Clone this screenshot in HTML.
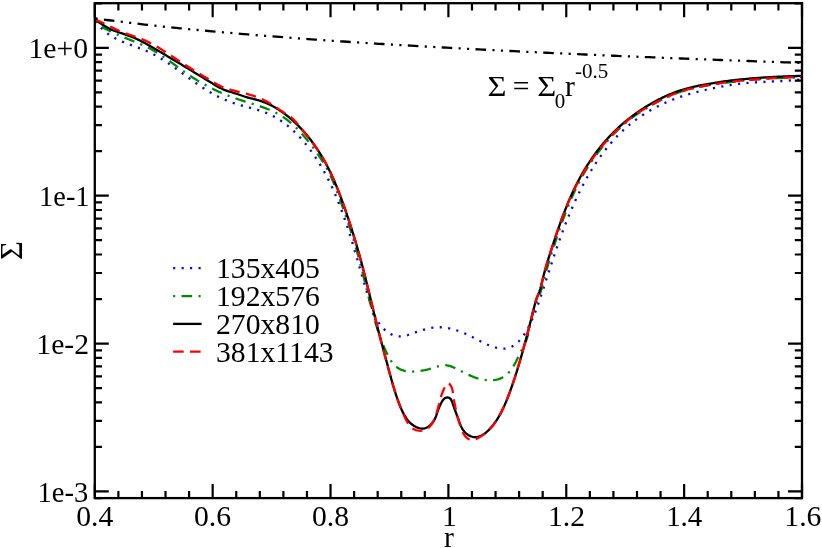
<!DOCTYPE html>
<html lang="en">
<head>
<meta charset="utf-8">
<title>Surface density vs r</title>
<style>
html,body{margin:0;padding:0;background:#fff;}
body{width:822px;height:548px;overflow:hidden;}
svg{display:block;will-change:transform;}
svg text{font-family:"Liberation Serif",serif;font-size:29.7px;fill:#000;}
.c{fill:none;stroke-width:2.3;stroke-linecap:butt;stroke-linejoin:round;}
</style>
</head>
<body>
<svg width="822" height="548" viewBox="0 0 822 548">
<rect x="0" y="0" width="822" height="548" fill="#ffffff"/>
<defs><clipPath id="clip"><rect x="94.8" y="3.2" width="707.2" height="494.90000000000003"/></clipPath></defs>
<g class="c" clip-path="url(#clip)">
<path d="M94.89 19.32L95.65 20.66L96.46 21.96L97.31 23.22L98.20 24.44L99.13 25.61L100.11 26.76L101.12 27.86L102.16 28.92L103.24 29.95L104.35 30.95L105.49 31.91L106.66 32.83L107.86 33.72L109.08 34.58L110.33 35.41L111.59 36.21L112.88 36.98L114.18 37.72L115.50 38.43L116.84 39.11L118.19 39.77L119.55 40.41L120.92 41.02L122.30 41.62L123.69 42.20L125.09 42.76L126.50 43.31L127.91 43.86L129.33 44.39L130.75 44.92L132.17 45.44L133.59 45.96L135.02 46.48L136.44 47.00L137.86 47.53L139.27 48.06L140.68 48.60L142.09 49.15L143.49 49.71L144.88 50.29L146.26 50.88L147.63 51.49L148.99 52.12L150.34 52.77L151.68 53.44L153.01 54.12L154.34 54.82L155.65 55.53L156.96 56.26L158.25 57.01L159.54 57.76L160.83 58.53L162.10 59.31L163.37 60.11L164.64 60.91L165.89 61.73L167.15 62.55L168.39 63.38L169.64 64.22L170.88 65.07L172.11 65.93L173.34 66.79L174.57 67.66L175.79 68.53L177.02 69.41L178.24 70.29L179.46 71.18L180.67 72.06L181.89 72.95L183.11 73.84L184.32 74.73L185.54 75.62L186.75 76.51L187.97 77.40L189.19 78.29L190.41 79.17L191.63 80.05L192.85 80.93L194.08 81.80L195.31 82.66L196.54 83.53L197.77 84.38L199.01 85.22L200.26 86.06L201.51 86.89L202.76 87.71L204.02 88.52L205.29 89.32L206.56 90.11L207.84 90.89L209.12 91.66L210.41 92.41L211.71 93.16L213.01 93.89L214.32 94.60L215.64 95.31L216.96 96.00L218.30 96.67L219.64 97.33L220.98 97.98L222.34 98.61L223.70 99.22L225.08 99.82L226.46 100.40L227.85 100.97L229.25 101.51L230.65 102.04L232.07 102.55L233.50 103.04L234.93 103.52L236.38 103.97L237.83 104.41L239.29 104.84L240.75 105.26L242.22 105.66L243.70 106.06L245.17 106.46L246.65 106.85L248.12 107.24L249.60 107.63L251.07 108.02L252.54 108.42L254.01 108.83L255.47 109.24L256.93 109.67L258.38 110.11L259.82 110.57L261.25 111.04L262.68 111.53L264.09 112.04L265.49 112.58L266.87 113.14L268.24 113.73L269.60 114.35L270.95 114.98L272.28 115.65L273.59 116.34L274.90 117.05L276.19 117.79L277.46 118.55L278.73 119.33L279.98 120.13L281.21 120.96L282.44 121.80L283.65 122.67L284.84 123.55L286.03 124.46L287.20 125.38L288.36 126.32L289.51 127.28L290.64 128.26L291.76 129.25L292.87 130.26L293.97 131.29L295.05 132.33L296.12 133.38L297.18 134.45L298.23 135.54L299.27 136.63L300.29 137.74L301.30 138.86L302.30 139.99L303.29 141.14L304.27 142.29L305.24 143.45L306.19 144.63L307.13 145.81L308.06 147.00L308.98 148.20L309.89 149.41L310.79 150.62L311.67 151.84L312.55 153.06L313.41 154.30L314.27 155.54L315.11 156.78L315.94 158.03L316.77 159.29L317.58 160.55L318.38 161.82L319.17 163.09L319.96 164.37L320.73 165.65L321.49 166.94L322.25 168.24L322.99 169.54L323.73 170.84L324.45 172.15L325.17 173.47L325.88 174.79L326.58 176.11L327.27 177.44L327.96 178.78L328.63 180.11L329.30 181.46L329.96 182.80L330.61 184.15L331.25 185.51L331.89 186.87L332.52 188.23L333.14 189.60L333.75 190.97L334.36 192.34L334.96 193.72L335.55 195.10L336.14 196.48L336.72 197.87L337.29 199.26L337.86 200.65L338.42 202.05L338.98 203.45L339.53 204.85L340.07 206.25L340.61 207.66L341.14 209.07L341.66 210.48L342.18 211.90L342.70 213.31L343.21 214.73L343.72 216.15L344.22 217.57L344.72 219.00L345.21 220.42L345.70 221.85L346.18 223.28L346.66 224.71L347.13 226.14L347.60 227.58L348.07 229.01L348.54 230.45L349.00 231.88L349.45 233.32L349.91 234.76L350.36 236.20L350.81 237.64L351.25 239.08L351.69 240.52L352.13 241.96L352.57 243.40L353.01 244.84L353.44 246.28L353.87 247.73L354.30 249.17L354.72 250.61L355.15 252.05L355.57 253.49L355.99 254.93L356.42 256.37L356.83 257.81L357.25 259.25L357.67 260.69L358.09 262.12L358.50 263.56L358.92 264.99L359.33 266.43L359.75 267.86L360.16 269.29L360.58 270.72L360.99 272.15L361.41 273.58L361.82 275.00L362.24 276.43L362.66 277.86L363.08 279.29L363.50 280.72L363.92 282.15L364.34 283.58L364.76 285.01L365.19 286.44L365.62 287.88L366.05 289.31L366.48 290.75L366.91 292.19L367.35 293.64L367.79 295.09L368.24 296.54L368.68 297.99L369.13 299.45L369.59 300.91L370.04 302.37L370.51 303.84L370.98 305.30L371.47 306.76L371.97 308.21L372.49 309.66L373.02 311.09L373.58 312.51L374.16 313.92L374.76 315.31L375.39 316.68L376.05 318.03L376.74 319.36L377.47 320.66L378.23 321.93L379.04 323.18L379.88 324.39L380.77 325.57L381.70 326.71L382.68 327.81L383.71 328.87L384.79 329.89L385.93 330.87L387.11 331.79L388.34 332.64L389.61 333.43L390.91 334.15L392.25 334.78L393.61 335.32L395.00 335.77L396.41 336.11L397.83 336.34L399.27 336.45L400.71 336.44L402.17 336.32L403.62 336.11L405.08 335.81L406.55 335.44L408.02 335.01L409.49 334.53L410.97 334.01L412.44 333.48L413.92 332.93L415.39 332.39L416.87 331.86L418.34 331.35L419.80 330.85L421.27 330.38L422.74 329.94L424.20 329.52L425.67 329.13L427.13 328.77L428.60 328.44L430.06 328.14L431.52 327.89L432.99 327.67L434.46 327.49L435.92 327.36L437.39 327.27L438.87 327.23L440.34 327.23L441.81 327.29L443.29 327.40L444.77 327.56L446.25 327.76L447.72 328.00L449.20 328.29L450.67 328.61L452.13 328.98L453.60 329.37L455.06 329.80L456.51 330.26L457.95 330.76L459.39 331.27L460.81 331.81L462.23 332.38L463.64 332.96L465.03 333.56L466.41 334.18L467.78 334.82L469.14 335.46L470.48 336.12L471.80 336.78L473.11 337.45L474.40 338.12L475.69 338.79L476.96 339.47L478.24 340.15L479.53 340.82L480.82 341.49L482.14 342.15L483.47 342.80L484.84 343.45L486.23 344.09L487.66 344.71L489.14 345.32L490.64 345.90L492.17 346.46L493.72 346.97L495.28 347.43L496.85 347.83L498.41 348.16L499.95 348.42L501.48 348.59L502.98 348.67L504.45 348.64L505.88 348.51L507.26 348.27L508.61 347.92L509.92 347.48L511.19 346.95L512.42 346.33L513.62 345.63L514.78 344.85L515.91 344.00L517.00 343.08L518.07 342.09L519.09 341.05L520.09 339.96L521.06 338.81L522.00 337.62L522.91 336.39L523.79 335.13L524.64 333.83L525.47 332.51L526.28 331.17L527.06 329.82L527.81 328.45L528.55 327.08L529.26 325.70L529.95 324.32L530.62 322.94L531.27 321.56L531.90 320.17L532.52 318.78L533.12 317.39L533.70 316.00L534.27 314.60L534.83 313.21L535.38 311.81L535.91 310.41L536.43 309.01L536.95 307.60L537.45 306.20L537.95 304.79L538.44 303.38L538.92 301.97L539.40 300.56L539.88 299.14L540.35 297.73L540.82 296.31L541.29 294.90L541.76 293.48L542.23 292.06L542.69 290.64L543.16 289.22L543.62 287.80L544.09 286.38L544.55 284.95L545.02 283.53L545.48 282.10L545.94 280.68L546.41 279.25L546.87 277.83L547.33 276.40L547.80 274.97L548.26 273.55L548.73 272.12L549.19 270.69L549.66 269.26L550.13 267.84L550.59 266.41L551.06 264.98L551.53 263.55L552.00 262.12L552.48 260.70L552.95 259.27L553.43 257.84L553.90 256.42L554.38 254.99L554.86 253.57L555.35 252.14L555.83 250.72L556.32 249.29L556.81 247.87L557.30 246.45L557.79 245.03L558.29 243.60L558.79 242.18L559.29 240.77L559.79 239.35L560.30 237.93L560.81 236.52L561.32 235.10L561.84 233.69L562.36 232.28L562.88 230.87L563.41 229.46L563.94 228.05L564.48 226.65L565.02 225.24L565.56 223.84L566.10 222.44L566.65 221.04L567.21 219.64L567.77 218.25L568.33 216.86L568.90 215.46L569.47 214.07L570.05 212.69L570.63 211.30L571.22 209.92L571.81 208.54L572.41 207.16L573.01 205.79L573.62 204.41L574.24 203.04L574.86 201.67L575.48 200.31L576.11 198.95L576.75 197.59L577.39 196.23L578.04 194.87L578.69 193.52L579.36 192.17L580.02 190.83L580.70 189.49L581.38 188.15L582.07 186.81L582.76 185.48L583.46 184.15L584.17 182.82L584.88 181.50L585.61 180.18L586.34 178.86L587.07 177.55L587.82 176.24L588.57 174.94L589.33 173.63L590.10 172.34L590.87 171.05L591.66 169.76L592.45 168.47L593.25 167.20L594.05 165.92L594.87 164.66L595.69 163.39L596.52 162.14L597.36 160.89L598.21 159.64L599.07 158.40L599.94 157.17L600.81 155.95L601.69 154.73L602.59 153.52L603.49 152.31L604.40 151.12L605.31 149.93L606.24 148.75L607.18 147.57L608.12 146.41L609.08 145.25L610.04 144.10L611.02 142.96L612.00 141.83L613.00 140.71L614.00 139.59L615.01 138.49L616.03 137.40L617.07 136.31L618.11 135.24L619.16 134.18L620.22 133.12L621.29 132.08L622.38 131.05L623.47 130.03L624.57 129.02L625.69 128.02L626.81 127.03L627.94 126.06L629.09 125.09L630.24 124.14L631.41 123.20L632.59 122.27L633.77 121.36L634.97 120.46L636.18 119.56L637.39 118.69L638.62 117.82L639.85 116.96L641.10 116.12L642.35 115.29L643.61 114.47L644.88 113.66L646.16 112.87L647.44 112.09L648.74 111.32L650.04 110.56L651.35 109.81L652.66 109.08L653.99 108.35L655.32 107.64L656.65 106.94L657.99 106.26L659.34 105.58L660.70 104.92L662.06 104.27L663.43 103.63L664.80 103.00L666.18 102.39L667.56 101.79L668.95 101.20L670.34 100.62L671.74 100.05L673.14 99.50L674.55 98.95L675.96 98.42L677.37 97.91L678.79 97.40L680.21 96.90L681.63 96.42L683.06 95.95L684.49 95.49L685.92 95.04L687.36 94.61L688.79 94.18L690.23 93.76L691.68 93.36L693.12 92.96L694.57 92.57L696.02 92.19L697.48 91.82L698.93 91.46L700.39 91.10L701.85 90.76L703.31 90.41L704.77 90.08L706.23 89.75L707.70 89.43L709.17 89.12L710.64 88.80L712.11 88.50L713.58 88.20L715.05 87.90L716.53 87.61L718.00 87.32L719.48 87.04L720.96 86.76L722.44 86.49L723.92 86.22L725.40 85.96L726.88 85.71L728.36 85.46L729.85 85.22L731.33 84.98L732.82 84.75L734.31 84.53L735.79 84.32L737.28 84.11L738.77 83.92L740.27 83.73L741.76 83.55L743.25 83.37L744.74 83.21L746.24 83.06L747.74 82.91L749.23 82.78L750.73 82.65L752.23 82.53L753.73 82.42L755.23 82.32L756.73 82.23L758.23 82.13L759.73 82.05L761.23 81.97L762.73 81.89L764.23 81.82L765.73 81.75L767.24 81.68L768.74 81.62L770.24 81.55L771.74 81.49L773.25 81.42L774.75 81.36L776.25 81.29L777.75 81.22L779.25 81.15L780.75 81.07L782.26 80.99L783.76 80.91L785.26 80.82L786.75 80.73L788.25 80.63L789.75 80.52L791.25 80.41L792.74 80.28L794.24 80.15L795.73 80.01L797.23 79.86L798.72 79.70L800.21 79.53L801.70 79.34" stroke="#0000ff" stroke-dasharray="2.119 6.356" stroke-dashoffset="-1.9"/>
<path d="M94.69 19.51L95.51 20.86L96.42 22.10L97.41 23.23L98.47 24.28L99.60 25.24L100.80 26.13L102.04 26.96L103.32 27.73L104.64 28.46L105.98 29.15L107.34 29.81L108.71 30.45L110.08 31.09L111.45 31.72L112.82 32.35L114.18 32.98L115.54 33.60L116.90 34.22L118.25 34.84L119.62 35.45L120.98 36.05L122.35 36.65L123.72 37.24L125.10 37.82L126.49 38.39L127.88 38.96L129.27 39.53L130.67 40.09L132.07 40.65L133.48 41.21L134.88 41.77L136.28 42.34L137.67 42.92L139.07 43.50L140.46 44.09L141.84 44.69L143.22 45.30L144.58 45.92L145.94 46.56L147.29 47.22L148.63 47.90L149.96 48.59L151.28 49.31L152.58 50.03L153.88 50.78L155.17 51.54L156.45 52.31L157.72 53.10L158.98 53.90L160.24 54.71L161.49 55.53L162.74 56.36L163.98 57.21L165.21 58.06L166.44 58.91L167.67 59.78L168.89 60.65L170.11 61.52L171.33 62.40L172.55 63.28L173.76 64.17L174.98 65.05L176.19 65.94L177.41 66.83L178.62 67.71L179.84 68.60L181.06 69.48L182.28 70.36L183.50 71.23L184.73 72.10L185.96 72.97L187.19 73.82L188.43 74.67L189.68 75.51L190.93 76.35L192.19 77.17L193.45 77.98L194.72 78.79L195.99 79.58L197.27 80.37L198.56 81.14L199.85 81.91L201.15 82.66L202.45 83.41L203.76 84.15L205.08 84.87L206.39 85.59L207.72 86.30L209.05 86.99L210.38 87.68L211.72 88.36L213.07 89.02L214.42 89.68L215.77 90.33L217.13 90.96L218.50 91.59L219.86 92.21L221.24 92.81L222.62 93.41L224.00 93.99L225.39 94.57L226.78 95.13L228.17 95.69L229.57 96.23L230.98 96.76L232.39 97.28L233.80 97.79L235.22 98.29L236.64 98.78L238.06 99.26L239.49 99.74L240.92 100.20L242.36 100.66L243.79 101.11L245.23 101.56L246.66 102.01L248.10 102.45L249.54 102.90L250.97 103.34L252.41 103.79L253.84 104.25L255.28 104.70L256.71 105.17L258.13 105.64L259.56 106.12L260.98 106.61L262.40 107.11L263.81 107.62L265.21 108.14L266.61 108.68L268.00 109.23L269.38 109.81L270.76 110.39L272.12 111.00L273.48 111.63L274.82 112.28L276.15 112.95L277.47 113.64L278.78 114.36L280.07 115.10L281.34 115.87L282.61 116.67L283.85 117.50L285.08 118.36L286.30 119.24L287.49 120.15L288.68 121.08L289.84 122.04L291.00 123.01L292.13 124.01L293.26 125.03L294.37 126.06L295.46 127.11L296.54 128.17L297.61 129.25L298.67 130.34L299.71 131.44L300.74 132.54L301.75 133.66L302.76 134.78L303.75 135.90L304.73 137.04L305.70 138.17L306.66 139.32L307.61 140.47L308.55 141.63L309.48 142.79L310.40 143.96L311.31 145.14L312.21 146.32L313.10 147.52L313.98 148.71L314.86 149.92L315.72 151.14L316.58 152.36L317.44 153.59L318.28 154.83L319.12 156.07L319.95 157.33L320.77 158.59L321.58 159.86L322.39 161.14L323.18 162.42L323.96 163.71L324.74 165.01L325.50 166.32L326.24 167.63L326.98 168.95L327.70 170.28L328.40 171.62L329.10 172.96L329.77 174.30L330.43 175.66L331.08 177.02L331.71 178.38L332.32 179.75L332.91 181.13L333.50 182.51L334.07 183.90L334.63 185.29L335.18 186.69L335.72 188.08L336.25 189.48L336.78 190.89L337.31 192.29L337.83 193.70L338.35 195.10L338.87 196.51L339.38 197.92L339.90 199.33L340.41 200.74L340.93 202.15L341.44 203.56L341.94 204.97L342.45 206.39L342.96 207.80L343.46 209.22L343.96 210.63L344.46 212.05L344.95 213.47L345.44 214.89L345.93 216.31L346.42 217.73L346.91 219.15L347.39 220.57L347.87 222.00L348.35 223.42L348.82 224.85L349.29 226.28L349.76 227.70L350.22 229.13L350.69 230.56L351.14 232.00L351.60 233.43L352.05 234.86L352.50 236.30L352.94 237.73L353.39 239.17L353.82 240.61L354.26 242.05L354.69 243.49L355.11 244.93L355.53 246.37L355.95 247.81L356.37 249.26L356.78 250.70L357.18 252.15L357.58 253.60L357.98 255.05L358.38 256.50L358.77 257.95L359.16 259.40L359.54 260.85L359.92 262.31L360.30 263.76L360.68 265.22L361.06 266.67L361.43 268.13L361.80 269.59L362.17 271.04L362.54 272.50L362.90 273.96L363.27 275.42L363.63 276.88L363.99 278.33L364.35 279.79L364.71 281.25L365.07 282.71L365.44 284.17L365.80 285.63L366.16 287.09L366.52 288.55L366.88 290.01L367.24 291.46L367.60 292.92L367.96 294.38L368.33 295.84L368.69 297.29L369.06 298.75L369.43 300.21L369.80 301.66L370.17 303.12L370.55 304.57L370.92 306.02L371.30 307.48L371.68 308.93L372.07 310.38L372.45 311.83L372.84 313.28L373.24 314.72L373.64 316.17L374.04 317.61L374.44 319.06L374.85 320.50L375.27 321.94L375.69 323.38L376.11 324.82L376.55 326.25L376.99 327.69L377.43 329.12L377.89 330.55L378.35 331.97L378.83 333.39L379.31 334.81L379.80 336.23L380.31 337.64L380.83 339.05L381.35 340.46L381.89 341.86L382.45 343.26L383.01 344.66L383.59 346.05L384.19 347.44L384.79 348.82L385.42 350.20L386.06 351.57L386.72 352.94L387.39 354.30L388.08 355.66L388.79 357.01L389.53 358.34L390.31 359.64L391.12 360.91L391.98 362.14L392.88 363.32L393.85 364.45L394.87 365.51L395.96 366.50L397.13 367.42L398.37 368.25L399.67 368.99L401.04 369.64L402.45 370.21L403.90 370.67L405.37 371.04L406.85 371.32L408.35 371.50L409.85 371.60L411.36 371.63L412.87 371.60L414.38 371.51L415.88 371.37L417.39 371.21L418.88 371.01L420.37 370.80L421.85 370.58L423.31 370.34L424.77 370.09L426.23 369.80L427.69 369.48L429.15 369.12L430.61 368.71L432.09 368.26L433.56 367.77L435.04 367.28L436.52 366.79L438.00 366.34L439.48 365.93L440.96 365.59L442.42 365.33L443.88 365.19L445.33 365.16L446.77 365.28L448.19 365.54L449.60 365.92L451.00 366.39L452.39 366.93L453.76 367.53L455.13 368.16L456.48 368.81L457.82 369.47L459.15 370.14L460.48 370.82L461.80 371.49L463.12 372.17L464.45 372.83L465.78 373.49L467.11 374.14L468.45 374.78L469.80 375.39L471.17 375.99L472.55 376.56L473.94 377.10L475.36 377.61L476.79 378.08L478.25 378.52L479.73 378.92L481.24 379.27L482.76 379.57L484.30 379.82L485.84 380.02L487.39 380.16L488.93 380.24L490.47 380.26L492.00 380.21L493.51 380.09L495.00 379.90L496.47 379.63L497.91 379.28L499.32 378.85L500.69 378.33L502.01 377.73L503.29 377.03L504.52 376.25L505.69 375.38L506.82 374.43L507.91 373.41L508.94 372.34L509.94 371.20L510.88 370.02L511.78 368.79L512.64 367.53L513.46 366.24L514.23 364.93L514.97 363.60L515.67 362.27L516.35 360.92L517.00 359.57L517.65 358.22L518.29 356.87L518.92 355.52L519.57 354.17L520.22 352.83L520.88 351.49L521.56 350.17L522.26 348.85L522.96 347.53L523.65 346.21L524.33 344.88L524.98 343.54L525.58 342.18L526.13 340.80L526.64 339.40L527.10 337.98L527.53 336.54L527.93 335.10L528.30 333.64L528.65 332.18L528.98 330.71L529.30 329.24L529.62 327.76L529.92 326.28L530.23 324.80L530.54 323.32L530.84 321.85L531.16 320.37L531.48 318.90L531.81 317.43L532.16 315.96L532.53 314.51L532.91 313.05L533.32 311.61L533.75 310.17L534.21 308.75L534.70 307.33L535.22 305.92L535.76 304.53L536.32 303.13L536.90 301.75L537.47 300.36L538.04 298.97L538.60 297.58L539.13 296.18L539.65 294.77L540.14 293.36L540.61 291.94L541.07 290.52L541.51 289.09L541.94 287.65L542.35 286.21L542.75 284.77L543.14 283.33L543.53 281.88L543.91 280.43L544.29 278.97L544.66 277.52L545.03 276.07L545.41 274.61L545.78 273.16L546.17 271.71L546.55 270.26L546.95 268.81L547.35 267.36L547.76 265.92L548.18 264.47L548.61 263.03L549.04 261.59L549.47 260.15L549.91 258.71L550.36 257.28L550.81 255.84L551.26 254.41L551.72 252.98L552.18 251.55L552.65 250.12L553.11 248.69L553.58 247.26L554.05 245.83L554.53 244.41L555.00 242.98L555.47 241.56L555.95 240.13L556.42 238.71L556.90 237.29L557.38 235.87L557.86 234.44L558.34 233.02L558.83 231.61L559.32 230.19L559.80 228.77L560.30 227.35L560.79 225.94L561.29 224.52L561.79 223.11L562.30 221.70L562.81 220.29L563.32 218.88L563.84 217.47L564.36 216.07L564.88 214.66L565.41 213.26L565.95 211.85L566.49 210.45L567.04 209.05L567.59 207.66L568.15 206.26L568.71 204.87L569.29 203.47L569.86 202.08L570.45 200.70L571.04 199.31L571.64 197.93L572.24 196.55L572.85 195.18L573.47 193.81L574.10 192.44L574.73 191.07L575.38 189.71L576.03 188.36L576.69 187.00L577.36 185.66L578.03 184.32L578.72 182.98L579.41 181.65L580.12 180.32L580.83 179.00L581.55 177.68L582.29 176.37L583.03 175.07L583.78 173.77L584.54 172.47L585.31 171.19L586.09 169.91L586.88 168.63L587.67 167.36L588.48 166.10L589.29 164.84L590.12 163.59L590.95 162.34L591.79 161.10L592.65 159.87L593.51 158.64L594.37 157.42L595.25 156.20L596.14 154.99L597.03 153.79L597.94 152.59L598.85 151.40L599.77 150.22L600.70 149.04L601.64 147.87L602.58 146.70L603.54 145.55L604.50 144.39L605.47 143.25L606.45 142.11L607.44 140.97L608.44 139.85L609.44 138.73L610.45 137.62L611.48 136.51L612.51 135.41L613.54 134.32L614.59 133.24L615.65 132.17L616.71 131.11L617.79 130.05L618.87 129.01L619.96 127.98L621.06 126.95L622.17 125.94L623.29 124.93L624.42 123.94L625.56 122.96L626.71 121.99L627.87 121.04L629.04 120.09L630.22 119.16L631.40 118.24L632.60 117.33L633.81 116.44L635.03 115.56L636.26 114.70L637.50 113.85L638.75 113.01L640.00 112.18L641.26 111.36L642.53 110.55L643.81 109.76L645.09 108.97L646.38 108.19L647.67 107.42L648.97 106.65L650.27 105.89L651.57 105.14L652.88 104.40L654.20 103.67L655.51 102.95L656.84 102.23L658.16 101.53L659.49 100.83L660.83 100.15L662.17 99.48L663.52 98.82L664.87 98.17L666.23 97.53L667.59 96.91L668.96 96.30L670.33 95.71L671.71 95.13L673.10 94.57L674.49 94.02L675.89 93.48L677.29 92.97L678.70 92.47L680.12 91.98L681.54 91.52L682.97 91.07L684.41 90.64L685.85 90.22L687.29 89.82L688.75 89.43L690.20 89.06L691.66 88.70L693.12 88.35L694.59 88.01L696.06 87.69L697.53 87.37L699.01 87.07L700.49 86.77L701.97 86.48L703.45 86.21L704.93 85.93L706.42 85.67L707.90 85.41L709.39 85.16L710.87 84.91L712.36 84.66L713.84 84.42L715.33 84.19L716.82 83.96L718.30 83.74L719.79 83.52L721.28 83.30L722.77 83.09L724.26 82.89L725.74 82.69L727.23 82.49L728.72 82.30L730.21 82.11L731.70 81.93L733.19 81.75L734.68 81.58L736.17 81.41L737.66 81.24L739.16 81.08L740.65 80.92L742.14 80.77L743.63 80.62L745.12 80.47L746.62 80.33L748.11 80.19L749.60 80.05L751.10 79.92L752.59 79.79L754.09 79.67L755.58 79.55L757.08 79.43L758.57 79.32L760.07 79.21L761.57 79.10L763.06 79.00L764.56 78.90L766.06 78.80L767.56 78.71L769.05 78.62L770.55 78.53L772.05 78.44L773.55 78.36L775.05 78.28L776.55 78.20L778.05 78.13L779.55 78.06L781.05 77.99L782.56 77.92L784.06 77.86L785.56 77.80L787.06 77.74L788.57 77.68L790.07 77.63L791.58 77.58L793.08 77.53L794.59 77.48L796.09 77.44L797.60 77.39L799.10 77.35L800.61 77.31L802.12 77.28" stroke="#008b00" stroke-dasharray="2.119 6.356 10.593 6.356" stroke-dashoffset="-1.6"/>
<path d="M94.70 19.50L95.96 20.30L97.22 21.12L98.47 21.95L99.72 22.78L100.98 23.62L102.24 24.45L103.51 25.27L104.79 26.08L106.08 26.85L107.38 27.60L108.71 28.31L110.05 28.98L111.41 29.61L112.79 30.20L114.18 30.75L115.59 31.28L117.01 31.78L118.43 32.27L119.86 32.74L121.29 33.21L122.73 33.68L124.16 34.15L125.59 34.63L127.01 35.12L128.43 35.63L129.84 36.15L131.24 36.68L132.63 37.24L134.02 37.81L135.39 38.40L136.76 39.01L138.12 39.64L139.47 40.30L140.80 40.97L142.13 41.67L143.45 42.38L144.77 43.11L146.08 43.84L147.39 44.57L148.70 45.31L150.01 46.05L151.32 46.80L152.62 47.54L153.93 48.29L155.23 49.04L156.53 49.79L157.83 50.55L159.13 51.30L160.43 52.06L161.73 52.82L163.02 53.58L164.32 54.34L165.61 55.11L166.91 55.87L168.20 56.64L169.49 57.41L170.78 58.18L172.07 58.95L173.36 59.72L174.65 60.49L175.94 61.26L177.23 62.04L178.51 62.81L179.80 63.59L181.08 64.36L182.37 65.14L183.65 65.92L184.94 66.70L186.22 67.48L187.50 68.25L188.79 69.03L190.07 69.81L191.35 70.59L192.63 71.37L193.92 72.15L195.20 72.93L196.48 73.71L197.76 74.49L199.04 75.27L200.32 76.05L201.60 76.83L202.89 77.62L204.17 78.40L205.45 79.18L206.73 79.96L208.01 80.74L209.30 81.52L210.58 82.30L211.86 83.09L213.15 83.87L214.43 84.65L215.72 85.42L217.02 86.18L218.32 86.92L219.64 87.63L220.97 88.32L222.32 88.97L223.68 89.58L225.07 90.15L226.48 90.66L227.92 91.13L229.37 91.56L230.82 91.97L232.28 92.39L233.72 92.82L235.15 93.29L236.57 93.77L237.98 94.27L239.39 94.78L240.79 95.28L242.20 95.78L243.61 96.26L245.04 96.72L246.48 97.15L247.93 97.55L249.39 97.93L250.86 98.29L252.33 98.65L253.80 99.01L255.27 99.38L256.74 99.77L258.19 100.18L259.63 100.61L261.06 101.08L262.48 101.58L263.89 102.11L265.28 102.66L266.66 103.24L268.03 103.85L269.38 104.49L270.73 105.15L272.06 105.83L273.38 106.54L274.69 107.28L275.98 108.03L277.26 108.81L278.53 109.61L279.79 110.42L281.04 111.26L282.27 112.12L283.50 113.00L284.71 113.89L285.91 114.80L287.09 115.73L288.27 116.67L289.43 117.63L290.58 118.60L291.72 119.58L292.84 120.58L293.96 121.59L295.06 122.61L296.15 123.65L297.23 124.69L298.30 125.75L299.35 126.82L300.40 127.90L301.43 129.00L302.45 130.10L303.46 131.22L304.46 132.34L305.45 133.48L306.42 134.62L307.38 135.78L308.34 136.94L309.28 138.12L310.21 139.30L311.12 140.50L312.03 141.70L312.93 142.91L313.81 144.13L314.68 145.36L315.54 146.59L316.40 147.84L317.24 149.09L318.06 150.35L318.88 151.61L319.69 152.88L320.48 154.16L321.27 155.45L322.04 156.74L322.81 158.04L323.56 159.34L324.30 160.65L325.03 161.96L325.75 163.28L326.46 164.61L327.16 165.94L327.85 167.27L328.53 168.61L329.19 169.96L329.85 171.30L330.51 172.66L331.15 174.01L331.78 175.37L332.40 176.74L333.02 178.11L333.63 179.48L334.23 180.85L334.82 182.23L335.41 183.61L335.98 185.00L336.56 186.39L337.12 187.78L337.68 189.17L338.23 190.57L338.78 191.97L339.32 193.37L339.85 194.78L340.38 196.18L340.91 197.59L341.43 199.00L341.94 200.41L342.46 201.83L342.96 203.24L343.47 204.66L343.97 206.08L344.46 207.50L344.96 208.92L345.45 210.34L345.94 211.77L346.42 213.19L346.91 214.62L347.39 216.04L347.87 217.47L348.34 218.90L348.81 220.33L349.28 221.75L349.75 223.18L350.22 224.62L350.68 226.05L351.14 227.48L351.60 228.91L352.05 230.35L352.51 231.78L352.96 233.22L353.40 234.65L353.85 236.09L354.29 237.53L354.73 238.97L355.16 240.41L355.59 241.85L356.02 243.29L356.45 244.73L356.88 246.17L357.30 247.61L357.72 249.06L358.13 250.50L358.55 251.95L358.96 253.39L359.36 254.84L359.77 256.29L360.17 257.74L360.57 259.18L360.96 260.63L361.36 262.08L361.75 263.53L362.13 264.99L362.52 266.44L362.90 267.89L363.27 269.34L363.65 270.80L364.02 272.25L364.39 273.71L364.76 275.16L365.13 276.62L365.49 278.08L365.86 279.53L366.22 280.99L366.58 282.45L366.93 283.91L367.29 285.36L367.65 286.82L368.00 288.28L368.35 289.74L368.71 291.20L369.06 292.66L369.41 294.12L369.76 295.58L370.11 297.04L370.46 298.50L370.81 299.97L371.16 301.43L371.51 302.89L371.86 304.35L372.21 305.81L372.56 307.27L372.92 308.74L373.27 310.20L373.62 311.66L373.98 313.12L374.33 314.58L374.69 316.04L375.05 317.51L375.41 318.97L375.77 320.43L376.13 321.89L376.50 323.35L376.87 324.81L377.23 326.27L377.61 327.73L377.98 329.19L378.35 330.65L378.73 332.11L379.11 333.57L379.49 335.03L379.87 336.49L380.26 337.95L380.64 339.41L381.03 340.86L381.42 342.32L381.80 343.78L382.19 345.23L382.58 346.69L382.97 348.14L383.36 349.60L383.76 351.05L384.15 352.51L384.54 353.96L384.93 355.41L385.32 356.86L385.71 358.31L386.11 359.76L386.50 361.21L386.89 362.66L387.28 364.10L387.67 365.55L388.06 367.00L388.44 368.44L388.83 369.88L389.22 371.33L389.60 372.77L389.99 374.21L390.38 375.65L390.77 377.09L391.16 378.53L391.56 379.97L391.96 381.40L392.36 382.84L392.77 384.28L393.19 385.71L393.61 387.14L394.04 388.58L394.48 390.01L394.92 391.44L395.38 392.87L395.84 394.30L396.31 395.74L396.80 397.16L397.29 398.59L397.80 400.02L398.32 401.45L398.86 402.88L399.40 404.31L399.97 405.73L400.54 407.16L401.14 408.58L401.76 409.99L402.40 411.38L403.08 412.76L403.78 414.12L404.53 415.45L405.31 416.74L406.13 418.00L407.01 419.22L407.93 420.39L408.90 421.52L409.94 422.59L411.03 423.60L412.19 424.55L413.41 425.43L414.71 426.23L416.08 426.96L417.50 427.59L418.96 428.09L420.44 428.43L421.91 428.58L423.36 428.52L424.77 428.26L426.14 427.80L427.46 427.18L428.72 426.39L429.91 425.48L431.03 424.44L432.06 423.30L433.01 422.08L433.85 420.79L434.60 419.46L435.24 418.09L435.81 416.70L436.33 415.28L436.81 413.86L437.27 412.45L437.74 411.04L438.23 409.65L438.77 408.27L439.34 406.91L439.95 405.55L440.62 404.18L441.33 402.79L442.10 401.40L442.97 400.06L443.98 398.90L445.17 398.02L446.54 397.53L447.96 397.49L449.29 397.92L450.40 398.77L451.25 399.97L451.91 401.39L452.45 402.93L452.96 404.45L453.47 405.93L453.98 407.36L454.49 408.75L455.00 410.13L455.51 411.51L456.02 412.89L456.53 414.28L457.04 415.68L457.55 417.09L458.06 418.51L458.58 419.93L459.09 421.36L459.62 422.80L460.17 424.22L460.76 425.62L461.39 426.99L462.08 428.32L462.84 429.61L463.68 430.83L464.62 431.98L465.65 433.05L466.81 434.04L468.09 434.92L469.47 435.68L470.93 436.30L472.43 436.76L473.93 437.03L475.42 437.10L476.88 436.99L478.31 436.71L479.71 436.29L481.08 435.73L482.41 435.05L483.69 434.28L484.92 433.42L486.11 432.49L487.26 431.49L488.36 430.45L489.43 429.35L490.45 428.23L491.45 427.08L492.42 425.91L493.36 424.72L494.26 423.52L495.15 422.30L496.00 421.07L496.83 419.82L497.64 418.55L498.42 417.28L499.18 415.99L499.92 414.68L500.64 413.37L501.33 412.04L502.01 410.71L502.68 409.36L503.32 408.01L503.95 406.65L504.56 405.28L505.16 403.90L505.75 402.51L506.33 401.12L506.89 399.73L507.44 398.33L507.99 396.92L508.52 395.52L509.05 394.11L509.58 392.69L510.09 391.28L510.61 389.86L511.11 388.45L511.61 387.03L512.11 385.61L512.60 384.19L513.09 382.76L513.57 381.34L514.05 379.91L514.52 378.49L514.99 377.06L515.45 375.63L515.91 374.20L516.36 372.76L516.81 371.33L517.26 369.90L517.70 368.46L518.14 367.02L518.58 365.59L519.01 364.15L519.44 362.71L519.86 361.27L520.28 359.83L520.70 358.38L521.12 356.94L521.53 355.49L521.94 354.05L522.34 352.60L522.75 351.15L523.15 349.71L523.55 348.26L523.94 346.81L524.34 345.36L524.73 343.91L525.12 342.46L525.50 341.00L525.89 339.55L526.27 338.10L526.65 336.64L527.03 335.19L527.41 333.73L527.79 332.28L528.16 330.82L528.54 329.37L528.91 327.91L529.28 326.45L529.65 325.00L530.02 323.54L530.39 322.08L530.76 320.62L531.13 319.16L531.50 317.70L531.86 316.24L532.23 314.79L532.60 313.33L532.96 311.87L533.33 310.41L533.70 308.95L534.06 307.49L534.43 306.03L534.81 304.57L535.19 303.12L535.61 301.68L536.04 300.25L536.52 298.83L537.03 297.42L537.59 296.04L538.19 294.66L538.77 293.29L539.32 291.90L539.81 290.49L540.25 289.06L540.65 287.61L541.02 286.16L541.37 284.70L541.71 283.23L542.05 281.76L542.40 280.30L542.75 278.83L543.12 277.37L543.49 275.92L543.87 274.46L544.26 273.01L544.66 271.56L545.06 270.11L545.47 268.67L545.89 267.22L546.31 265.78L546.73 264.34L547.16 262.90L547.60 261.46L548.04 260.02L548.48 258.59L548.93 257.15L549.38 255.72L549.84 254.29L550.29 252.86L550.75 251.43L551.21 250.00L551.68 248.57L552.14 247.14L552.60 245.71L553.07 244.28L553.54 242.85L554.01 241.42L554.48 240.00L554.95 238.57L555.43 237.14L555.90 235.72L556.38 234.30L556.87 232.87L557.35 231.45L557.84 230.03L558.33 228.61L558.82 227.19L559.32 225.77L559.82 224.36L560.33 222.94L560.83 221.53L561.35 220.11L561.86 218.70L562.38 217.29L562.91 215.89L563.44 214.48L563.98 213.08L564.51 211.68L565.06 210.28L565.61 208.88L566.17 207.48L566.73 206.09L567.29 204.70L567.87 203.31L568.44 201.92L569.03 200.54L569.62 199.16L570.22 197.78L570.82 196.40L571.44 195.03L572.05 193.66L572.68 192.30L573.31 190.93L573.95 189.57L574.60 188.22L575.26 186.87L575.92 185.52L576.59 184.18L577.27 182.84L577.96 181.50L578.66 180.17L579.37 178.84L580.08 177.52L580.80 176.20L581.54 174.89L582.28 173.58L583.03 172.28L583.79 170.98L584.56 169.69L585.34 168.40L586.12 167.12L586.92 165.84L587.73 164.57L588.54 163.31L589.36 162.05L590.20 160.80L591.04 159.55L591.89 158.32L592.75 157.08L593.62 155.86L594.50 154.64L595.39 153.42L596.28 152.22L597.19 151.02L598.11 149.83L599.03 148.65L599.96 147.47L600.91 146.30L601.86 145.14L602.82 143.99L603.80 142.84L604.78 141.70L605.77 140.58L606.77 139.46L607.78 138.34L608.80 137.24L609.83 136.15L610.86 135.06L611.91 133.98L612.97 132.91L614.03 131.85L615.11 130.80L616.19 129.76L617.28 128.73L618.38 127.71L619.49 126.69L620.60 125.68L621.73 124.69L622.86 123.70L624.00 122.72L625.15 121.75L626.31 120.80L627.48 119.85L628.65 118.91L629.83 117.97L631.02 117.05L632.22 116.14L633.42 115.24L634.63 114.35L635.85 113.47L637.07 112.60L638.31 111.73L639.55 110.88L640.79 110.04L642.05 109.21L643.31 108.39L644.58 107.58L645.85 106.77L647.13 105.98L648.42 105.20L649.71 104.43L651.01 103.68L652.31 102.93L653.63 102.19L654.95 101.47L656.27 100.75L657.60 100.05L658.94 99.36L660.28 98.69L661.63 98.02L662.98 97.37L664.34 96.73L665.71 96.11L667.08 95.50L668.46 94.90L669.84 94.32L671.23 93.75L672.63 93.20L674.03 92.66L675.43 92.14L676.85 91.63L678.26 91.13L679.69 90.66L681.11 90.20L682.55 89.75L683.98 89.32L685.43 88.90L686.87 88.50L688.32 88.11L689.78 87.74L691.23 87.37L692.70 87.02L694.16 86.68L695.63 86.35L697.10 86.03L698.57 85.72L700.05 85.41L701.52 85.12L703.00 84.83L704.48 84.56L705.96 84.28L707.44 84.02L708.93 83.76L710.41 83.51L711.90 83.26L713.38 83.02L714.87 82.78L716.35 82.55L717.84 82.32L719.32 82.10L720.81 81.88L722.30 81.67L723.79 81.47L725.28 81.26L726.77 81.07L728.26 80.88L729.75 80.69L731.24 80.51L732.73 80.33L734.22 80.15L735.71 79.98L737.21 79.82L738.70 79.66L740.19 79.50L741.69 79.35L743.18 79.20L744.68 79.06L746.17 78.92L747.67 78.78L749.17 78.65L750.66 78.52L752.16 78.39L753.66 78.27L755.15 78.15L756.65 78.04L758.15 77.93L759.65 77.82L761.15 77.71L762.65 77.61L764.15 77.51L765.65 77.42L767.15 77.32L768.65 77.23L770.15 77.15L771.65 77.06L773.15 76.98L774.65 76.90L776.15 76.83L777.65 76.75L779.16 76.68L780.66 76.61L782.16 76.55L783.66 76.48L785.17 76.42L786.67 76.36L788.17 76.30L789.68 76.25L791.18 76.19L792.68 76.14L794.19 76.09L795.69 76.04L797.20 76.00L798.70 75.95L800.20 75.91L801.71 75.86" stroke="#000000"/>
<path d="M94.68 19.54L96.11 20.03L97.52 20.55L98.92 21.11L100.31 21.69L101.68 22.30L103.05 22.93L104.40 23.58L105.75 24.24L107.09 24.91L108.43 25.59L109.77 26.27L111.11 26.95L112.45 27.63L113.80 28.30L115.14 28.96L116.50 29.60L117.86 30.23L119.24 30.84L120.62 31.42L122.01 31.98L123.42 32.52L124.83 33.05L126.25 33.55L127.68 34.05L129.10 34.54L130.53 35.03L131.96 35.51L133.39 36.00L134.82 36.49L136.24 36.98L137.66 37.49L139.07 38.01L140.48 38.55L141.87 39.11L143.25 39.69L144.63 40.29L145.99 40.91L147.34 41.55L148.69 42.21L150.02 42.89L151.35 43.58L152.67 44.29L153.98 45.02L155.29 45.76L156.59 46.51L157.88 47.27L159.17 48.04L160.45 48.82L161.73 49.62L163.01 50.41L164.28 51.22L165.55 52.03L166.81 52.85L168.07 53.67L169.33 54.49L170.59 55.31L171.85 56.14L173.11 56.96L174.37 57.79L175.62 58.62L176.88 59.44L178.14 60.26L179.40 61.09L180.65 61.91L181.91 62.73L183.17 63.54L184.43 64.36L185.70 65.17L186.96 65.98L188.23 66.78L189.50 67.58L190.77 68.38L192.04 69.17L193.32 69.96L194.60 70.75L195.88 71.52L197.16 72.30L198.45 73.07L199.74 73.85L201.03 74.62L202.32 75.39L203.60 76.16L204.89 76.94L206.18 77.72L207.47 78.50L208.76 79.29L210.04 80.09L211.33 80.88L212.62 81.66L213.91 82.43L215.21 83.20L216.52 83.94L217.83 84.66L219.16 85.35L220.50 86.01L221.86 86.64L223.23 87.23L224.62 87.77L226.02 88.29L227.43 88.77L228.86 89.22L230.30 89.65L231.74 90.06L233.20 90.45L234.66 90.82L236.12 91.18L237.59 91.54L239.06 91.89L240.53 92.25L242.00 92.60L243.47 92.96L244.93 93.34L246.39 93.72L247.84 94.12L249.29 94.54L250.73 94.98L252.16 95.43L253.58 95.90L255.00 96.39L256.41 96.91L257.80 97.44L259.19 97.99L260.57 98.57L261.94 99.17L263.29 99.79L264.63 100.44L265.96 101.11L267.28 101.81L268.58 102.54L269.87 103.29L271.15 104.07L272.41 104.88L273.67 105.70L274.91 106.54L276.16 107.39L277.40 108.25L278.64 109.10L279.89 109.95L281.15 110.80L282.41 111.63L283.69 112.44L284.98 113.24L286.27 114.02L287.55 114.81L288.81 115.63L290.04 116.49L291.21 117.40L292.34 118.36L293.42 119.38L294.46 120.44L295.47 121.54L296.45 122.66L297.41 123.82L298.36 124.99L299.30 126.17L300.23 127.35L301.17 128.54L302.11 129.72L303.05 130.90L303.99 132.07L304.94 133.25L305.89 134.42L306.83 135.60L307.77 136.78L308.71 137.95L309.65 139.13L310.58 140.32L311.50 141.50L312.42 142.69L313.33 143.89L314.23 145.09L315.12 146.29L316.00 147.51L316.87 148.73L317.73 149.96L318.57 151.19L319.40 152.44L320.22 153.70L321.02 154.96L321.81 156.23L322.58 157.52L323.35 158.81L324.09 160.10L324.83 161.41L325.56 162.72L326.27 164.04L326.97 165.37L327.67 166.70L328.35 168.04L329.02 169.38L329.68 170.73L330.33 172.09L330.97 173.45L331.61 174.82L332.23 176.19L332.85 177.56L333.45 178.94L334.05 180.33L334.65 181.71L335.23 183.10L335.81 184.50L336.38 185.89L336.95 187.29L337.51 188.69L338.06 190.10L338.61 191.50L339.16 192.91L339.70 194.32L340.23 195.73L340.77 197.14L341.29 198.55L341.82 199.96L342.33 201.38L342.85 202.79L343.36 204.21L343.87 205.62L344.37 207.04L344.87 208.46L345.36 209.88L345.85 211.30L346.34 212.72L346.83 214.15L347.31 215.57L347.78 217.00L348.26 218.42L348.73 219.85L349.19 221.28L349.65 222.71L350.11 224.14L350.57 225.57L351.02 227.00L351.47 228.43L351.92 229.86L352.36 231.30L352.81 232.73L353.24 234.17L353.68 235.61L354.11 237.04L354.54 238.48L354.97 239.92L355.39 241.36L355.81 242.80L356.23 244.24L356.65 245.68L357.06 247.13L357.47 248.57L357.88 250.01L358.29 251.46L358.69 252.90L359.10 254.35L359.50 255.80L359.89 257.24L360.29 258.69L360.68 260.14L361.08 261.59L361.47 263.04L361.86 264.49L362.24 265.94L362.63 267.39L363.01 268.84L363.39 270.30L363.77 271.75L364.15 273.20L364.53 274.66L364.91 276.11L365.28 277.57L365.65 279.02L366.03 280.48L366.40 281.93L366.77 283.39L367.13 284.85L367.50 286.30L367.87 287.76L368.23 289.22L368.60 290.68L368.96 292.14L369.33 293.60L369.69 295.06L370.05 296.52L370.41 297.98L370.77 299.44L371.13 300.90L371.49 302.36L371.85 303.82L372.21 305.28L372.57 306.74L372.93 308.21L373.29 309.67L373.64 311.13L374.00 312.59L374.36 314.06L374.72 315.52L375.08 316.98L375.44 318.45L375.79 319.91L376.15 321.37L376.51 322.84L376.87 324.30L377.23 325.76L377.59 327.22L377.95 328.69L378.31 330.15L378.68 331.61L379.04 333.08L379.40 334.54L379.77 336.00L380.13 337.46L380.50 338.92L380.87 340.38L381.24 341.84L381.61 343.30L381.98 344.76L382.35 346.22L382.72 347.68L383.10 349.14L383.47 350.59L383.85 352.05L384.23 353.51L384.61 354.96L385.00 356.42L385.38 357.87L385.77 359.32L386.16 360.77L386.55 362.22L386.94 363.67L387.33 365.12L387.73 366.57L388.13 368.01L388.53 369.46L388.93 370.90L389.34 372.35L389.74 373.79L390.15 375.23L390.57 376.67L390.98 378.11L391.40 379.54L391.82 380.98L392.24 382.41L392.67 383.84L393.10 385.27L393.53 386.70L393.97 388.13L394.41 389.56L394.85 390.98L395.29 392.40L395.75 393.82L396.21 395.24L396.67 396.66L397.15 398.08L397.63 399.50L398.12 400.91L398.62 402.32L399.14 403.73L399.66 405.14L400.20 406.55L400.76 407.96L401.32 409.37L401.91 410.77L402.50 412.18L403.12 413.58L403.75 414.99L404.40 416.39L405.07 417.79L405.77 419.19L406.48 420.58L407.23 421.96L408.02 423.30L408.86 424.58L409.78 425.79L410.78 426.90L411.87 427.89L413.06 428.76L414.36 429.47L415.75 430.03L417.20 430.44L418.70 430.69L420.21 430.79L421.72 430.72L423.20 430.49L424.63 430.09L425.99 429.52L427.26 428.78L428.43 427.89L429.50 426.86L430.48 425.72L431.39 424.49L432.22 423.20L432.98 421.86L433.68 420.50L434.33 419.12L434.93 417.72L435.48 416.31L435.99 414.89L436.47 413.45L436.92 412.00L437.34 410.55L437.74 409.09L438.12 407.63L438.49 406.17L438.86 404.71L439.22 403.25L439.59 401.80L439.97 400.35L440.36 398.92L440.77 397.50L441.20 396.09L441.66 394.69L442.15 393.32L442.68 391.95L443.26 390.56L443.89 389.13L444.58 387.63L445.35 386.05L446.19 384.59L447.13 383.56L448.17 383.27L449.29 383.85L450.37 385.03L451.27 386.49L451.93 387.97L452.37 389.46L452.66 390.94L452.85 392.42L453.02 393.91L453.21 395.39L453.42 396.87L453.65 398.35L453.90 399.83L454.17 401.31L454.45 402.79L454.75 404.26L455.05 405.74L455.37 407.21L455.69 408.68L456.02 410.15L456.35 411.61L456.70 413.07L457.06 414.53L457.43 415.99L457.81 417.44L458.21 418.89L458.62 420.33L459.04 421.78L459.48 423.21L459.94 424.65L460.42 426.08L460.91 427.50L461.42 428.93L461.96 430.34L462.55 431.73L463.21 433.08L463.95 434.39L464.81 435.64L465.79 436.81L466.89 437.87L468.09 438.78L469.39 439.48L470.75 439.94L472.18 440.11L473.64 439.95L475.13 439.50L476.62 438.83L478.08 438.04L479.49 437.22L480.83 436.40L482.12 435.56L483.36 434.71L484.55 433.83L485.71 432.91L486.83 431.95L487.92 430.96L488.98 429.94L490.00 428.88L491.00 427.79L491.96 426.67L492.90 425.52L493.81 424.34L494.69 423.14L495.54 421.92L496.38 420.67L497.18 419.41L497.97 418.12L498.74 416.82L499.48 415.50L500.20 414.17L500.91 412.83L501.60 411.47L502.27 410.11L502.93 408.73L503.58 407.36L504.21 405.97L504.83 404.59L505.43 403.20L506.03 401.81L506.61 400.41L507.19 399.02L507.75 397.62L508.31 396.22L508.85 394.81L509.39 393.41L509.91 392.00L510.43 390.59L510.94 389.18L511.44 387.76L511.94 386.35L512.43 384.93L512.91 383.51L513.38 382.09L513.85 380.67L514.31 379.24L514.77 377.82L515.22 376.39L515.66 374.96L516.10 373.53L516.54 372.10L516.98 370.66L517.41 369.23L517.83 367.79L518.26 366.35L518.68 364.92L519.10 363.48L519.52 362.04L519.94 360.60L520.35 359.16L520.77 357.71L521.18 356.27L521.60 354.83L522.01 353.38L522.43 351.94L522.84 350.49L523.25 349.04L523.67 347.60L524.08 346.15L524.49 344.70L524.90 343.25L525.31 341.80L525.71 340.35L526.12 338.90L526.52 337.45L526.92 335.99L527.31 334.54L527.70 333.08L528.09 331.63L528.47 330.17L528.85 328.71L529.22 327.25L529.59 325.79L529.96 324.33L530.32 322.87L530.67 321.40L531.02 319.94L531.36 318.47L531.69 317.01L532.03 315.54L532.36 314.07L532.70 312.61L533.04 311.14L533.39 309.68L533.74 308.23L534.12 306.77L534.50 305.33L534.91 303.89L535.34 302.45L535.78 301.03L536.26 299.61L536.76 298.20L537.30 296.80L537.86 295.41L538.43 294.02L538.99 292.63L539.51 291.23L540.00 289.81L540.45 288.38L540.88 286.94L541.28 285.49L541.66 284.04L542.02 282.58L542.37 281.12L542.71 279.65L543.04 278.18L543.37 276.71L543.71 275.24L544.05 273.77L544.40 272.31L544.77 270.85L545.15 269.39L545.55 267.95L545.97 266.51L546.40 265.07L546.84 263.64L547.30 262.21L547.75 260.78L548.21 259.35L548.67 257.92L549.13 256.50L549.59 255.07L550.05 253.64L550.51 252.21L550.98 250.78L551.44 249.35L551.90 247.91L552.36 246.48L552.82 245.05L553.29 243.62L553.76 242.19L554.22 240.76L554.69 239.33L555.16 237.90L555.64 236.48L556.11 235.05L556.59 233.62L557.08 232.20L557.56 230.77L558.05 229.35L558.54 227.93L559.03 226.51L559.53 225.09L560.04 223.67L560.54 222.25L561.05 220.84L561.57 219.43L562.09 218.02L562.61 216.61L563.15 215.20L563.68 213.80L564.22 212.40L564.77 211.00L565.32 209.60L565.88 208.21L566.45 206.82L567.02 205.43L567.59 204.04L568.18 202.66L568.77 201.28L569.37 199.90L569.98 198.53L570.59 197.16L571.21 195.80L571.84 194.43L572.48 193.07L573.13 191.72L573.78 190.37L574.45 189.02L575.12 187.68L575.80 186.34L576.49 185.01L577.19 183.68L577.90 182.35L578.62 181.03L579.34 179.71L580.08 178.40L580.82 177.09L581.57 175.79L582.33 174.49L583.10 173.20L583.88 171.91L584.66 170.63L585.45 169.35L586.26 168.08L587.07 166.81L587.88 165.55L588.71 164.29L589.55 163.04L590.39 161.79L591.24 160.55L592.10 159.32L592.97 158.09L593.85 156.86L594.73 155.65L595.62 154.43L596.52 153.23L597.43 152.03L598.35 150.83L599.27 149.64L600.20 148.46L601.14 147.29L602.09 146.12L603.05 144.96L604.02 143.81L604.99 142.66L605.97 141.52L606.96 140.39L607.96 139.26L608.97 138.15L609.98 137.04L611.01 135.94L612.04 134.85L613.09 133.77L614.14 132.70L615.20 131.64L616.27 130.59L617.35 129.54L618.43 128.51L619.53 127.49L620.64 126.48L621.75 125.47L622.88 124.48L624.01 123.50L625.16 122.53L626.31 121.57L627.48 120.62L628.65 119.69L629.83 118.77L631.03 117.85L632.23 116.95L633.44 116.07L634.67 115.19L635.90 114.33L637.14 113.48L638.39 112.64L639.65 111.82L640.92 111.00L642.19 110.20L643.48 109.40L644.77 108.62L646.06 107.85L647.37 107.09L648.67 106.34L649.99 105.60L651.31 104.87L652.63 104.14L653.96 103.43L655.30 102.73L656.63 102.03L657.97 101.35L659.32 100.67L660.67 100.00L662.02 99.34L663.37 98.69L664.72 98.05L666.08 97.42L667.45 96.80L668.81 96.19L670.19 95.59L671.56 95.01L672.95 94.44L674.34 93.89L675.73 93.35L677.13 92.83L678.54 92.32L679.95 91.83L681.37 91.36L682.80 90.91L684.23 90.47L685.67 90.05L687.11 89.65L688.56 89.26L690.02 88.88L691.48 88.52L692.94 88.17L694.41 87.83L695.88 87.50L697.36 87.18L698.83 86.88L700.31 86.58L701.79 86.29L703.28 86.01L704.76 85.74L706.25 85.47L707.73 85.21L709.22 84.96L710.71 84.71L712.20 84.47L713.68 84.23L715.17 83.99L716.66 83.77L718.15 83.54L719.64 83.32L721.13 83.11L722.62 82.90L724.11 82.69L725.60 82.49L727.09 82.29L728.58 82.10L730.07 81.92L731.56 81.73L733.05 81.55L734.54 81.38L736.03 81.21L737.52 81.04L739.02 80.88L740.51 80.72L742.00 80.57L743.49 80.42L744.99 80.27L746.48 80.13L747.98 79.99L749.47 79.86L750.97 79.73L752.46 79.60L753.96 79.47L755.45 79.35L756.95 79.24L758.44 79.12L759.94 79.01L761.44 78.91L762.94 78.80L764.43 78.70L765.93 78.60L767.43 78.51L768.93 78.42L770.43 78.33L771.93 78.25L773.43 78.16L774.93 78.08L776.43 78.01L777.93 77.93L779.44 77.86L780.94 77.79L782.44 77.73L783.94 77.66L785.45 77.60L786.95 77.54L788.46 77.49L789.96 77.43L791.47 77.38L792.97 77.33L794.48 77.28L795.99 77.24L797.49 77.19L799.00 77.15L800.51 77.11L802.02 77.08" stroke="#ff0000" stroke-dasharray="10.580 6.348"/>
<path d="M94.80 18.38L98.35 18.86L101.91 19.33L105.46 19.80L109.02 20.26L112.57 20.71L116.12 21.16L119.68 21.60L123.23 22.03L126.78 22.46L130.34 22.89L133.89 23.30L137.45 23.72L141.00 24.12L144.55 24.53L148.11 24.92L151.66 25.32L155.21 25.70L158.77 26.09L162.32 26.47L165.88 26.84L169.43 27.21L172.98 27.58L176.54 27.94L180.09 28.29L183.64 28.65L187.20 29.00L190.75 29.34L194.31 29.69L197.86 30.02L201.41 30.36L204.97 30.69L208.52 31.02L212.07 31.34L215.63 31.67L219.18 31.98L222.74 32.30L226.29 32.61L229.84 32.92L233.40 33.23L236.95 33.53L240.50 33.83L244.06 34.13L247.61 34.42L251.17 34.72L254.72 35.01L258.27 35.29L261.83 35.58L265.38 35.86L268.93 36.14L272.49 36.42L276.04 36.69L279.60 36.96L283.15 37.23L286.70 37.50L290.26 37.77L293.81 38.03L297.36 38.29L300.92 38.55L304.47 38.81L308.03 39.06L311.58 39.32L315.13 39.57L318.69 39.82L322.24 40.07L325.79 40.31L329.35 40.55L332.90 40.80L336.46 41.04L340.01 41.27L343.56 41.51L347.12 41.75L350.67 41.98L354.23 42.21L357.78 42.44L361.33 42.67L364.89 42.89L368.44 43.12L371.99 43.34L375.55 43.56L379.10 43.78L382.66 44.00L386.21 44.22L389.76 44.43L393.32 44.65L396.87 44.86L400.42 45.07L403.98 45.28L407.53 45.49L411.09 45.70L414.64 45.91L418.19 46.11L421.75 46.31L425.30 46.52L428.85 46.72L432.41 46.92L435.96 47.12L439.52 47.31L443.07 47.51L446.62 47.70L450.18 47.90L453.73 48.09L457.28 48.28L460.84 48.47L464.39 48.66L467.95 48.85L471.50 49.03L475.05 49.22L478.61 49.41L482.16 49.59L485.71 49.77L489.27 49.95L492.82 50.13L496.38 50.31L499.93 50.49L503.48 50.67L507.04 50.85L510.59 51.02L514.14 51.20L517.70 51.37L521.25 51.54L524.81 51.71L528.36 51.89L531.91 52.06L535.47 52.22L539.02 52.39L542.57 52.56L546.13 52.73L549.68 52.89L553.24 53.06L556.79 53.22L560.34 53.38L563.90 53.55L567.45 53.71L571.01 53.87L574.56 54.03L578.11 54.19L581.67 54.35L585.22 54.50L588.77 54.66L592.33 54.82L595.88 54.97L599.44 55.13L602.99 55.28L606.54 55.43L610.10 55.59L613.65 55.74L617.20 55.89L620.76 56.04L624.31 56.19L627.87 56.34L631.42 56.48L634.97 56.63L638.53 56.78L642.08 56.92L645.63 57.07L649.19 57.21L652.74 57.36L656.30 57.50L659.85 57.64L663.40 57.79L666.96 57.93L670.51 58.07L674.06 58.21L677.62 58.35L681.17 58.49L684.73 58.63L688.28 58.76L691.83 58.90L695.39 59.04L698.94 59.18L702.49 59.31L706.05 59.45L709.60 59.58L713.16 59.71L716.71 59.85L720.26 59.98L723.82 60.11L727.37 60.24L730.92 60.38L734.48 60.51L738.03 60.64L741.59 60.77L745.14 60.89L748.69 61.02L752.25 61.15L755.80 61.28L759.35 61.41L762.91 61.53L766.46 61.66L770.02 61.78L773.57 61.91L777.12 62.03L780.68 62.16L784.23 62.28L787.78 62.40L791.34 62.53L794.89 62.65L798.45 62.77L802.00 62.89" stroke="#000000" stroke-dasharray="2.119 6.356 10.593 6.356 2.119 6.356" stroke-dashoffset="-0.7"/>
</g>
<g class="c">
<path d="M173.10 268.20L201.60 268.20" stroke="#0000ff" stroke-dasharray="2.119 6.356"/><path d="M173.10 296.10L201.60 296.10" stroke="#008b00" stroke-dasharray="2.119 6.356 10.593 6.356"/><path d="M173.10 323.90L201.60 323.90" stroke="#000000"/><path d="M173.10 351.70L201.60 351.70" stroke="#ff0000" stroke-dasharray="10.580 6.348"/>
</g>
<path d="M94.80 498.10L94.80 484.10M94.80 3.20L94.80 17.20M212.67 498.10L212.67 484.10M212.67 3.20L212.67 17.20M330.53 498.10L330.53 484.10M330.53 3.20L330.53 17.20M448.40 498.10L448.40 484.10M448.40 3.20L448.40 17.20M566.27 498.10L566.27 484.10M566.27 3.20L566.27 17.20M684.13 498.10L684.13 484.10M684.13 3.20L684.13 17.20M802.00 498.10L802.00 484.10M802.00 3.20L802.00 17.20M94.80 491.41L108.80 491.41M802.00 491.41L788.00 491.41M94.80 343.54L108.80 343.54M802.00 343.54L788.00 343.54M94.80 195.67L108.80 195.67M802.00 195.67L788.00 195.67M94.80 47.80L108.80 47.80M802.00 47.80L788.00 47.80M118.37 498.10L118.37 490.90M118.37 3.20L118.37 10.40M141.95 498.10L141.95 490.90M141.95 3.20L141.95 10.40M165.52 498.10L165.52 490.90M165.52 3.20L165.52 10.40M189.09 498.10L189.09 490.90M189.09 3.20L189.09 10.40M236.24 498.10L236.24 490.90M236.24 3.20L236.24 10.40M259.81 498.10L259.81 490.90M259.81 3.20L259.81 10.40M283.39 498.10L283.39 490.90M283.39 3.20L283.39 10.40M306.96 498.10L306.96 490.90M306.96 3.20L306.96 10.40M354.11 498.10L354.11 490.90M354.11 3.20L354.11 10.40M377.68 498.10L377.68 490.90M377.68 3.20L377.68 10.40M401.25 498.10L401.25 490.90M401.25 3.20L401.25 10.40M424.83 498.10L424.83 490.90M424.83 3.20L424.83 10.40M471.97 498.10L471.97 490.90M471.97 3.20L471.97 10.40M495.55 498.10L495.55 490.90M495.55 3.20L495.55 10.40M519.12 498.10L519.12 490.90M519.12 3.20L519.12 10.40M542.69 498.10L542.69 490.90M542.69 3.20L542.69 10.40M589.84 498.10L589.84 490.90M589.84 3.20L589.84 10.40M613.41 498.10L613.41 490.90M613.41 3.20L613.41 10.40M636.99 498.10L636.99 490.90M636.99 3.20L636.99 10.40M660.56 498.10L660.56 490.90M660.56 3.20L660.56 10.40M707.71 498.10L707.71 490.90M707.71 3.20L707.71 10.40M731.28 498.10L731.28 490.90M731.28 3.20L731.28 10.40M754.85 498.10L754.85 490.90M754.85 3.20L754.85 10.40M778.43 498.10L778.43 490.90M778.43 3.20L778.43 10.40M94.80 498.18L102.00 498.18M802.00 498.18L794.80 498.18M94.80 446.90L102.00 446.90M802.00 446.90L794.80 446.90M94.80 420.86L102.00 420.86M802.00 420.86L794.80 420.86M94.80 402.38L102.00 402.38M802.00 402.38L794.80 402.38M94.80 388.05L102.00 388.05M802.00 388.05L794.80 388.05M94.80 376.34L102.00 376.34M802.00 376.34L794.80 376.34M94.80 366.45L102.00 366.45M802.00 366.45L794.80 366.45M94.80 357.87L102.00 357.87M802.00 357.87L794.80 357.87M94.80 350.31L102.00 350.31M802.00 350.31L794.80 350.31M94.80 299.03L102.00 299.03M802.00 299.03L794.80 299.03M94.80 272.99L102.00 272.99M802.00 272.99L794.80 272.99M94.80 254.51L102.00 254.51M802.00 254.51L794.80 254.51M94.80 240.18L102.00 240.18M802.00 240.18L794.80 240.18M94.80 228.47L102.00 228.47M802.00 228.47L794.80 228.47M94.80 218.58L102.00 218.58M802.00 218.58L794.80 218.58M94.80 210.00L102.00 210.00M802.00 210.00L794.80 210.00M94.80 202.44L102.00 202.44M802.00 202.44L794.80 202.44M94.80 151.16L102.00 151.16M802.00 151.16L794.80 151.16M94.80 125.12L102.00 125.12M802.00 125.12L794.80 125.12M94.80 106.64L102.00 106.64M802.00 106.64L794.80 106.64M94.80 92.31L102.00 92.31M802.00 92.31L794.80 92.31M94.80 80.60L102.00 80.60M802.00 80.60L794.80 80.60M94.80 70.71L102.00 70.71M802.00 70.71L794.80 70.71M94.80 62.13L102.00 62.13M802.00 62.13L794.80 62.13M94.80 54.57L102.00 54.57M802.00 54.57L794.80 54.57M94.80 3.29L102.00 3.29M802.00 3.29L794.80 3.29" fill="none" stroke="#000" stroke-width="2.2"/>
<rect x="94.8" y="3.2" width="707.20" height="494.90" fill="none" stroke="#000" stroke-width="2.3"/>
<g>
<text transform="translate(94.80 526.00) scale(1.000 1.015)" text-anchor="middle">0.4</text>
<text transform="translate(212.47 526.00) scale(1.000 1.015)" text-anchor="middle">0.6</text>
<text transform="translate(330.53 526.00) scale(1.000 1.015)" text-anchor="middle">0.8</text>
<text transform="translate(449.30 526.00) scale(1.000 1.015)" text-anchor="middle">1</text>
<text transform="translate(566.57 526.00) scale(1.000 1.015)" text-anchor="middle">1.2</text>
<text transform="translate(684.23 526.00) scale(0.975 1.015)" text-anchor="middle">1.4</text>
<text transform="translate(802.90 526.00) scale(1.000 1.015)" text-anchor="middle">1.6</text>
<text transform="translate(88.00 58.20) scale(1.000 1.015)" text-anchor="end">1e+0</text>
<text transform="translate(89.50 206.07) scale(0.955 1.015)" text-anchor="end">1e-1</text>
<text transform="translate(89.10 353.94) scale(1.000 1.015)" text-anchor="end">1e-2</text>
<text transform="translate(88.20 501.81) scale(0.960 1.015)" text-anchor="end">1e-3</text>
<text transform="translate(216.00 278.20) scale(1.000 1.015)">135x405</text>
<text transform="translate(216.00 306.10) scale(1.000 1.015)">192x576</text>
<text transform="translate(216.00 333.90) scale(1.000 1.015)">270x810</text>
<text transform="translate(216.00 361.70) scale(1.000 1.015)">381x1143</text>
<text transform="translate(449 547) scale(1 1.015)" text-anchor="middle">r</text>
<text transform="translate(21.9 250.4) rotate(-90) scale(1.1 1.06)" text-anchor="middle">&#931;</text>
<text transform="translate(487.6 96.1) scale(1.1 1.02)">&#931;</text>
<text transform="translate(537.2 96.1) scale(1.1 1.02)">&#931;</text>
<text y="96.1"><tspan x="512.7">=</tspan><tspan x="554.7" dy="12.3" font-size="21">0</tspan><tspan x="565.0" dy="-12.3">r</tspan><tspan dy="-18" font-size="21">-0.5</tspan></text>
</g>
</svg>
</body>
</html>
